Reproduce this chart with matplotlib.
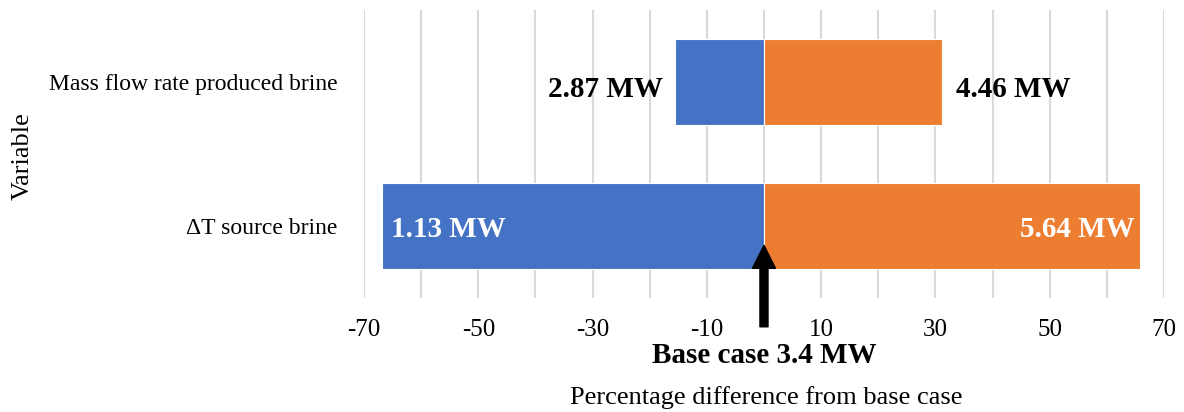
import matplotlib.pyplot as plt
import numpy as np

# tornado chart: power output when each variable is pushed low / high
variables = ["\u0394T source brine", "Mass flow rate produced brine"]
low_mw = [1.13, 2.87]
high_mw = [5.64, 4.46]
base_mw = 3.4

x_ticks = [-70, -50, -30, -10, 10, 30, 50, 70]

BLUE = "#4472C4"
ORANGE = "#ED7D31"
GRID = "#D9D9D9"

plt.rcParams["font.family"] = ["Liberation Serif", "DejaVu Serif"]

low_pct = (np.array(low_mw) - base_mw) / base_mw * 100
high_pct = (np.array(high_mw) - base_mw) / base_mw * 100
ypos = np.arange(len(variables))

fig = plt.figure(figsize=(11.84, 4.12), dpi=100)
ax = fig.add_axes([0.3074, 0.2767, 0.6757, 0.6990])

ax.barh(ypos, low_pct, height=0.6, color=BLUE, edgecolor="white", linewidth=0.8, zorder=2)
ax.barh(ypos, high_pct, height=0.6, color=ORANGE, edgecolor="white", linewidth=0.8, zorder=2)

# value labels: outside the short bars, inside the long ones
LBL = dict(fontsize=21, fontweight="bold", va="center", textcoords="offset pixels", zorder=3)
for i in ypos:
    lo, hi = low_pct[i], high_pct[i]
    if abs(lo) > 40:
        ax.annotate(f"{low_mw[i]:.2f} MW", (lo, i), xytext=(9, -3), ha="left", color="white", **LBL)
    else:
        ax.annotate(f"{low_mw[i]:.2f} MW", (lo, i), xytext=(-12, -7), ha="right", color="black", **LBL)
    if abs(hi) > 40:
        ax.annotate(f"{high_mw[i]:.2f} MW", (hi, i), xytext=(-6, -3), ha="right", color="white", **LBL)
    else:
        ax.annotate(f"{high_mw[i]:.2f} MW", (hi, i), xytext=(14, -7), ha="left", color="black", **LBL)

ax.set_xlim(-70, 70)
ax.set_ylim(-0.5, 1.5)
ax.set_xticks(x_ticks)
ax.set_xticklabels([str(t) for t in x_ticks])
ax.set_xticks(np.arange(-70, 71, 10), minor=True)
ax.set_yticks(ypos)
ax.set_yticklabels(variables)

ax.grid(axis="x", which="both", color=GRID, linewidth=1.5, zorder=0)
ax.set_axisbelow(True)
for s in ax.spines.values():
    s.set_visible(False)
ax.tick_params(axis="x", which="both", length=0, labelsize=18, pad=15)
ax.tick_params(axis="y", length=0, labelsize=17, pad=19)

# base case marker
ax.annotate("", xy=(0, -0.134), xytext=(0, -0.7),
            arrowprops=dict(width=5.8, headwidth=16.6, headlength=16.6,
                            facecolor="black", edgecolor="black", shrink=0),
            annotation_clip=False, zorder=4)
ax.text(0, -0.9, f"Base case {base_mw} MW", ha="center", va="center",
        fontsize=21, fontweight="bold", clip_on=False)

fig.text(0.647, 0.035, "Percentage difference from base case", ha="center", va="center", fontsize=19)
fig.text(0.0195, 0.621, "Variable", ha="center", va="center", rotation=90, fontsize=19)

fig.savefig("out.png", dpi=100)
